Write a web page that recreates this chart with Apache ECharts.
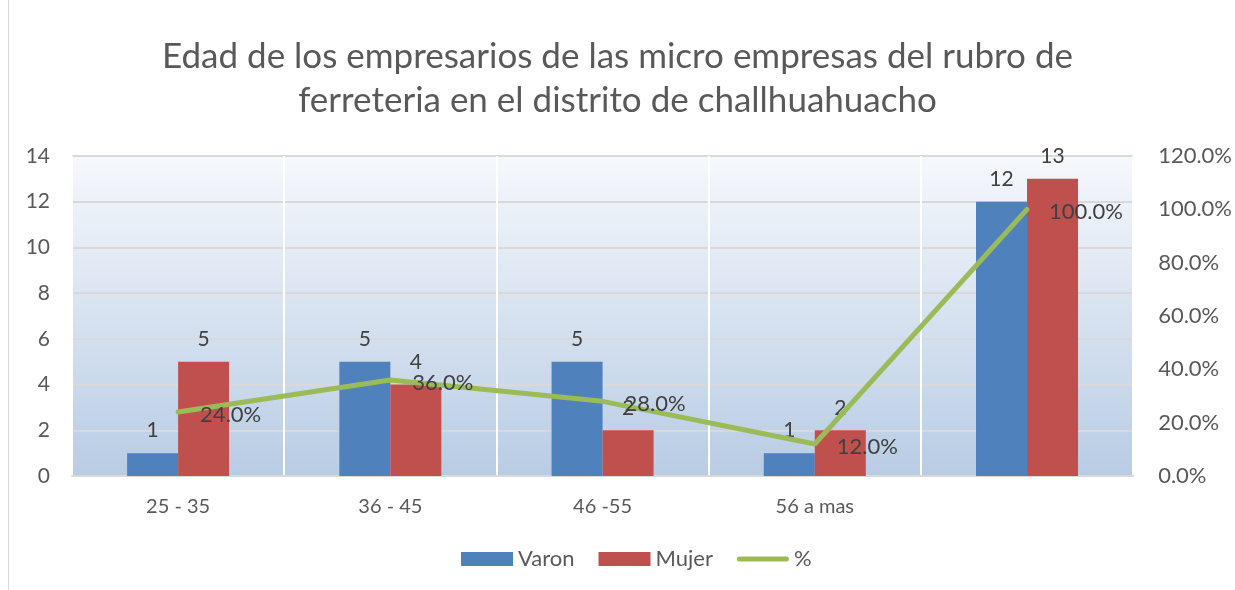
<!DOCTYPE html>
<html>
<head>
<meta charset="utf-8">
<script src="https://cdn.jsdelivr.net/npm/echarts@6/dist/echarts.min.js"></script>
<style>
  html, body { margin: 0; padding: 0; background: #fff; }
  #chart { width: 1235px; height: 590px; }
</style>
</head>
<body>
<div id="chart"></div>
<script>
var categories = ["25 - 35", "36 - 45", "46 -55", "56 a mas", ""];
var varon = [1, 5, 5, 1, 12];
var mujer = [5, 4, 2, 2, 13];
var pct = [0.24, 0.36, 0.28, 0.12, 1.0];

var textColor = "#595959";
var font = "Lato";

var chart = echarts.init(document.getElementById("chart"));
chart.setOption({
    animation: false,
    textStyle: { fontFamily: font },
    title: {
        text: "Edad de los empresarios de las micro empresas del rubro de\nferreteria en el distrito de challhuahuacho",
        left: "center",
        top: 30,
        textStyle: { fontSize: 35, fontWeight: "normal", color: textColor, lineHeight: 44, fontFamily: font }
    },
    graphic: [{
        type: "line",
        shape: { x1: 8.5, y1: 0, x2: 8.5, y2: 590 },
        style: { stroke: "#d9d9d9", lineWidth: 1 }
    }],
    legend: {
        bottom: 15,
        left: 456,
        itemGap: 24,
        itemWidth: 52,
        itemHeight: 14,
        itemTextGap: 6,
        textStyle: { fontSize: 22, color: textColor, fontFamily: font },
        data: [
            { name: "Varon", icon: "rect" },
            { name: "Mujer", icon: "rect" },
            { name: "%", icon: "path://M2.5,0 L49.5,0 A2.5,2.5 0 0 1 49.5,5 L2.5,5 A2.5,2.5 0 0 1 2.5,0 Z" }
        ]
    },
    grid: {
        left: 72, right: 100, top: 156, bottom: 114,
        show: true,
        borderWidth: 0,
        backgroundColor: {
            type: "linear", x: 0, y: 0, x2: 0, y2: 1,
            colorStops: [
                { offset: 0, color: "#f6f8fc" },
                { offset: 1, color: "#b8cce4" }
            ]
        }
    },
    xAxis: {
        type: "category",
        data: categories,
        axisLine: { lineStyle: { color: "#d9d9d9", width: 2 } },
        axisTick: { show: false },
        axisLabel: { fontSize: 20, color: textColor, margin: 21 },
        splitLine: { show: true, lineStyle: { color: "#ffffff", width: 2 } }
    },
    yAxis: [{
        type: "value",
        min: 0, max: 14, interval: 2,
        axisLine: { show: false },
        axisTick: { show: false },
        axisLabel: { fontSize: 21, color: textColor, margin: 22 },
        splitLine: { lineStyle: { color: "#d9d9d9", width: 2 } }
    }, {
        type: "value",
        min: 0, max: 1.2, interval: 0.2,
        axisLine: { show: false },
        axisTick: { show: false },
        splitLine: { show: false },
        axisLabel: {
            fontSize: 22, color: textColor, margin: 25,
            formatter: function (v) { return (v * 100).toFixed(1) + "%"; }
        }
    }],
    series: [{
        name: "Varon",
        type: "bar",
        data: varon,
        barWidth: 51,
        barGap: "0%",
        itemStyle: { color: "#4f81bd" },
        label: { show: true, position: "top", fontSize: 21, color: "#404040", distance: 12 }
    }, {
        name: "Mujer",
        type: "bar",
        data: mujer,
        barWidth: 51,
        itemStyle: { color: "#c0504d" },
        label: { show: true, position: "top", fontSize: 21, color: "#404040", distance: 12 }
    }, {
        name: "%",
        type: "line",
        yAxisIndex: 1,
        data: pct,
        symbol: "circle",
        symbolSize: 0,
        z: 5,
        lineStyle: { color: "#9bbb59", width: 5, cap: "round" },
        itemStyle: { color: "#9bbb59" },
        label: {
            show: true, position: "right", distance: 22,
            fontSize: 22, color: "#404040", offset: [0, 3],
            formatter: function (p) { return (p.value * 100).toFixed(1) + "%"; }
        }
    }]
});
</script>
</body>
</html>
